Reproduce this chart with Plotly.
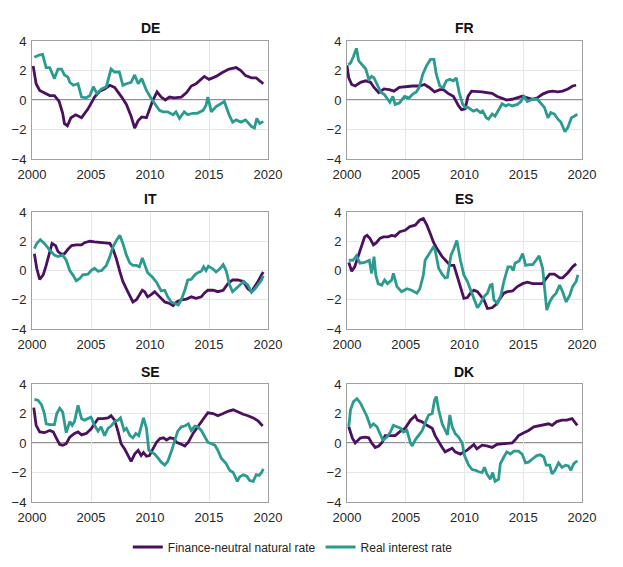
import plotly.graph_objects as go

# ---------------- data ----------------
countries = ["DE", "FR", "IT", "ES", "SE", "DK"]
x_ticks = [2000, 2005, 2010, 2015, 2020]
y_ticks = [-4, -2, 0, 2, 4]

de_nat_x = [2000.1, 2000.35, 2000.65, 2001.1, 2001.5, 2001.9, 2002.3, 2002.6, 2002.75, 2003.0, 2003.3, 2003.7, 2004.2, 2004.75, 2005.3, 2005.75, 2006.15, 2006.6, 2007.0, 2007.6, 2008.0, 2008.4, 2008.7, 2009.0, 2009.3, 2009.7, 2010.0, 2010.25, 2010.6, 2010.95, 2011.3, 2011.65, 2012.05, 2012.65, 2013.1, 2013.5, 2013.9, 2014.2, 2014.6, 2015.0, 2015.6, 2016.1, 2016.7, 2017.3, 2017.7, 2018.1, 2018.6, 2019.0, 2019.4, 2019.6]
de_nat_y = [2.3, 1.1, 0.65, 0.45, 0.3, 0.3, -0.1, -0.9, -1.6, -1.75, -1.2, -1.0, -1.2, -0.6, 0.2, 0.6, 0.75, 1.0, 0.85, 0.2, -0.3, -1.1, -1.9, -1.4, -1.15, -1.2, -0.6, 0.0, 0.55, 0.2, 0.0, 0.2, 0.15, 0.2, 0.5, 0.95, 1.1, 1.3, 1.6, 1.4, 1.6, 1.85, 2.1, 2.2, 2.0, 1.65, 1.5, 1.5, 1.2, 1.1]
de_real_x = [2000.2, 2000.6, 2000.9, 2001.2, 2001.5, 2001.9, 2002.2, 2002.5, 2002.75, 2003.05, 2003.2, 2003.5, 2003.9, 2004.2, 2004.6, 2004.9, 2005.2, 2005.5, 2005.9, 2006.3, 2006.7, 2007.0, 2007.4, 2007.7, 2008.0, 2008.4, 2008.7, 2009.0, 2009.3, 2009.7, 2010.1, 2010.4, 2010.8, 2011.1, 2011.5, 2011.95, 2012.2, 2012.5, 2012.9, 2013.2, 2013.6, 2014.0, 2014.5, 2014.75, 2014.9, 2015.2, 2015.6, 2016.0, 2016.3, 2016.7, 2017.0, 2017.3, 2017.7, 2018.1, 2018.6, 2018.85, 2019.05, 2019.3, 2019.6]
de_real_y = [2.9, 3.05, 3.1, 2.2, 2.2, 1.45, 2.1, 2.1, 1.7, 1.55, 1.2, 1.0, 1.1, 0.2, 0.15, 0.3, 0.9, 0.45, 0.75, 0.9, 2.1, 1.9, 1.9, 1.0, 1.1, 1.2, 1.7, 1.1, 1.45, 0.65, 0.1, -0.25, -0.7, -0.8, -0.8, -1.0, -0.8, -1.25, -0.8, -1.0, -0.9, -0.9, -0.7, -0.35, 0.2, -0.8, -0.45, -0.25, -0.1, -1.0, -1.5, -1.35, -1.5, -1.35, -1.8, -1.9, -1.25, -1.6, -1.45]

fr_nat_x = [2000.0, 2000.15, 2000.4, 2000.7, 2001.15, 2001.6, 2002.0, 2002.3, 2002.7, 2003.15, 2003.6, 2004.0, 2004.45, 2005.0, 2005.6, 2006.15, 2006.6, 2007.0, 2007.45, 2007.9, 2008.2, 2008.6, 2009.05, 2009.5, 2009.75, 2010.05, 2010.3, 2010.6, 2011.05, 2011.5, 2011.9, 2012.35, 2012.75, 2013.2, 2013.6, 2014.05, 2014.5, 2014.9, 2015.35, 2015.8, 2016.2, 2016.65, 2017.1, 2017.5, 2017.95, 2018.35, 2018.8, 2019.2, 2019.5]
fr_nat_y = [2.35, 1.5, 1.05, 0.95, 1.2, 1.3, 1.2, 0.85, 0.5, 0.75, 0.7, 0.6, 0.85, 0.9, 0.95, 0.95, 1.05, 0.85, 0.55, 0.7, 0.7, 0.45, 0.25, -0.4, -0.65, -0.6, 0.25, 0.6, 0.6, 0.55, 0.5, 0.45, 0.25, 0.1, 0.0, 0.05, 0.15, 0.25, 0.15, 0.05, 0.15, 0.4, 0.55, 0.6, 0.55, 0.6, 0.75, 0.95, 1.0]
fr_real_x = [2000.1, 2000.3, 2000.55, 2000.8, 2001.0, 2001.3, 2001.6, 2001.85, 2002.1, 2002.3, 2002.6, 2002.9, 2003.15, 2003.45, 2003.65, 2003.9, 2004.1, 2004.45, 2004.9, 2005.3, 2005.6, 2005.9, 2006.15, 2006.45, 2006.75, 2007.1, 2007.4, 2007.6, 2007.9, 2008.2, 2008.45, 2008.75, 2009.05, 2009.3, 2009.55, 2009.85, 2010.05, 2010.3, 2010.75, 2011.05, 2011.35, 2011.55, 2011.85, 2012.05, 2012.35, 2012.6, 2012.9, 2013.2, 2013.5, 2013.75, 2014.05, 2014.5, 2014.8, 2015.05, 2015.35, 2015.8, 2016.2, 2016.5, 2016.8, 2017.1, 2017.35, 2017.65, 2017.95, 2018.2, 2018.55, 2018.8, 2019.1, 2019.35, 2019.6]
fr_real_y = [2.4, 2.5, 2.95, 3.5, 2.65, 2.4, 2.1, 1.4, 1.6, 1.5, 0.95, 0.5, 0.4, 0.05, -0.15, 0.25, -0.3, -0.2, 0.25, 0.15, 0.4, 0.55, 0.85, 1.75, 2.3, 2.75, 2.75, 1.75, 0.95, 0.85, 1.3, 1.4, 1.3, 1.5, 0.5, -0.3, -0.5, -0.5, -0.75, -0.65, -0.85, -0.75, -1.2, -1.3, -0.95, -1.1, -0.65, -0.25, -0.4, -0.3, -0.4, -0.3, -0.1, 0.25, -0.1, 0.05, 0.05, -0.25, -0.5, -1.2, -0.85, -0.95, -1.3, -1.5, -2.15, -1.85, -1.2, -1.1, -0.95]

it_nat_x = [2000.2, 2000.4, 2000.65, 2000.95, 2001.2, 2001.5, 2001.7, 2002.0, 2002.2, 2002.5, 2002.75, 2003.05, 2003.35, 2003.75, 2004.2, 2004.45, 2004.9, 2005.3, 2005.75, 2006.15, 2006.6, 2006.85, 2007.15, 2007.45, 2007.7, 2008.0, 2008.3, 2008.55, 2008.85, 2009.1, 2009.35, 2009.55, 2009.8, 2010.1, 2010.4, 2010.7, 2010.95, 2011.25, 2011.65, 2011.95, 2012.25, 2012.65, 2013.1, 2013.5, 2013.9, 2014.35, 2014.6, 2014.9, 2015.35, 2015.75, 2016.2, 2016.6, 2017.0, 2017.45, 2017.9, 2018.3, 2018.6, 2018.9, 2019.15, 2019.45, 2019.6]
it_nat_y = [1.15, 0.15, -0.6, -0.3, 0.35, 1.25, 1.85, 1.7, 1.3, 1.1, 1.15, 1.45, 1.7, 1.75, 1.75, 1.9, 2.0, 1.95, 1.9, 1.9, 1.85, 1.5, 0.8, -0.1, -0.75, -1.25, -1.7, -2.15, -2.0, -1.7, -1.35, -1.45, -1.8, -1.65, -1.45, -1.7, -1.9, -2.15, -2.25, -2.4, -2.15, -2.0, -1.95, -1.8, -1.9, -1.8, -1.55, -1.35, -1.35, -1.45, -1.35, -0.9, -0.65, -0.65, -0.75, -1.25, -1.45, -1.1, -0.75, -0.3, -0.1]
it_real_x = [2000.2, 2000.4, 2000.7, 2001.05, 2001.5, 2001.9, 2002.2, 2002.6, 2002.9, 2003.2, 2003.5, 2003.75, 2004.05, 2004.3, 2004.75, 2005.0, 2005.3, 2005.6, 2005.9, 2006.3, 2006.6, 2006.85, 2007.15, 2007.45, 2007.7, 2008.0, 2008.3, 2008.55, 2008.85, 2009.1, 2009.35, 2009.55, 2009.8, 2010.2, 2010.55, 2010.75, 2010.95, 2011.25, 2011.5, 2011.8, 2012.1, 2012.4, 2012.65, 2012.95, 2013.2, 2013.5, 2013.8, 2014.05, 2014.35, 2014.55, 2014.75, 2014.95, 2015.35, 2015.6, 2015.9, 2016.2, 2016.45, 2016.75, 2017.0, 2017.3, 2017.65, 2017.95, 2018.3, 2018.6, 2018.9, 2019.15, 2019.45, 2019.6]
it_real_y = [1.5, 1.85, 2.1, 1.85, 1.4, 1.05, 0.95, 1.05, 0.7, 0.0, -0.35, -0.7, -0.55, -0.3, -0.25, 0.0, 0.15, -0.05, 0.0, 0.35, 0.95, 1.6, 2.05, 2.4, 1.85, 1.05, 0.5, 0.35, 0.35, 0.25, 0.85, 0.35, -0.15, -0.45, -0.8, -1.1, -1.4, -1.35, -1.8, -2.15, -2.25, -2.35, -2.0, -1.35, -0.65, -0.6, -0.3, -0.15, -0.05, 0.25, 0.0, 0.3, 0.1, -0.1, 0.1, 0.4, 0.0, -1.0, -1.45, -1.25, -1.0, -0.75, -1.0, -1.5, -1.25, -1.0, -0.65, -0.35]

es_nat_x = [2000.15, 2000.4, 2000.65, 2000.95, 2001.25, 2001.5, 2001.7, 2001.95, 2002.25, 2002.5, 2002.8, 2003.1, 2003.5, 2003.8, 2004.1, 2004.5, 2004.95, 2005.35, 2005.8, 2006.2, 2006.5, 2006.8, 2007.1, 2007.35, 2007.65, 2008.1, 2008.5, 2008.8, 2009.1, 2009.35, 2009.65, 2009.95, 2010.25, 2010.5, 2010.8, 2011.1, 2011.35, 2011.65, 2011.95, 2012.35, 2012.65, 2012.95, 2013.35, 2013.65, 2014.1, 2014.5, 2014.95, 2015.35, 2015.8, 2016.25, 2016.65, 2016.95, 2017.25, 2017.65, 2018.1, 2018.35, 2018.8, 2019.2, 2019.5]
es_nat_y = [0.55, -0.05, 0.25, 0.95, 1.75, 2.3, 2.4, 2.2, 1.75, 1.9, 2.2, 2.3, 2.3, 2.4, 2.35, 2.65, 2.75, 3.0, 3.1, 3.45, 3.55, 3.1, 2.5, 1.95, 1.5, 0.95, 0.6, 0.35, 0.35, -0.3, -1.25, -1.9, -1.85, -1.55, -1.35, -1.45, -1.7, -2.0, -2.6, -2.55, -2.35, -2.0, -1.55, -1.45, -1.4, -1.1, -0.9, -0.8, -0.9, -0.9, -0.9, -0.55, -0.25, -0.25, -0.5, -0.5, -0.15, 0.25, 0.45]
es_real_x = [2000.15, 2000.5, 2000.8, 2001.1, 2001.5, 2001.9, 2002.1, 2002.3, 2002.45, 2002.65, 2002.95, 2003.2, 2003.45, 2003.8, 2003.95, 2004.25, 2004.65, 2005.1, 2005.5, 2005.95, 2006.2, 2006.5, 2006.65, 2007.1, 2007.35, 2007.5, 2007.8, 2008.1, 2008.35, 2008.55, 2008.85, 2009.1, 2009.35, 2009.65, 2009.95, 2010.25, 2010.5, 2010.85, 2011.1, 2011.35, 2011.65, 2011.95, 2012.2, 2012.35, 2012.5, 2012.8, 2013.1, 2013.35, 2013.7, 2013.95, 2014.15, 2014.3, 2014.65, 2014.95, 2015.2, 2015.5, 2015.8, 2016.05, 2016.35, 2016.65, 2016.8, 2017.0, 2017.25, 2017.5, 2017.8, 2018.1, 2018.35, 2018.65, 2018.95, 2019.2, 2019.5, 2019.65]
es_real_y = [0.7, 0.7, 1.0, 0.5, 0.55, 0.7, -0.2, 0.95, -0.3, -0.9, -1.0, -0.65, -0.9, -0.65, -0.2, -1.1, -1.45, -1.25, -1.35, -1.55, -1.25, -0.3, 0.7, 1.3, 1.6, 1.4, 0.15, -0.25, -0.5, -0.45, 1.05, 1.5, 2.05, 0.7, -0.3, -0.75, -1.25, -2.0, -2.55, -2.25, -1.8, -1.55, -1.0, -0.95, -2.0, -2.25, -1.7, -0.75, 0.25, 0.25, 0.0, 0.5, 0.65, 1.15, 0.35, 0.4, 0.4, 0.65, 1.0, 0.15, -1.0, -2.7, -2.15, -1.8, -1.55, -1.0, -1.45, -2.15, -1.7, -1.1, -0.75, -0.3]

se_nat_x = [2000.15, 2000.35, 2000.65, 2001.05, 2001.5, 2001.8, 2002.05, 2002.35, 2002.6, 2002.9, 2003.2, 2003.6, 2003.9, 2004.2, 2004.6, 2005.0, 2005.3, 2005.6, 2006.0, 2006.45, 2006.7, 2007.0, 2007.3, 2007.55, 2007.85, 2008.15, 2008.4, 2008.7, 2009.0, 2009.25, 2009.45, 2009.7, 2009.95, 2010.25, 2010.55, 2010.85, 2011.15, 2011.4, 2011.7, 2012.0, 2012.25, 2012.7, 2012.95, 2013.25, 2013.65, 2014.05, 2014.5, 2014.9, 2015.35, 2015.75, 2016.2, 2016.6, 2017.05, 2017.45, 2017.9, 2018.3, 2018.75, 2019.15, 2019.55]
se_nat_y = [2.4, 1.2, 0.75, 0.7, 0.85, 0.75, 0.35, -0.1, -0.15, -0.05, 0.4, 0.65, 0.75, 0.55, 0.65, 0.95, 1.3, 1.65, 1.65, 1.7, 1.85, 1.55, 0.75, -0.05, -0.4, -0.85, -1.25, -0.75, -0.5, -0.85, -0.65, -0.9, -0.85, -0.4, 0.05, 0.3, 0.35, 0.2, 0.35, 0.3, 0.05, -0.1, -0.2, 0.05, 0.65, 1.1, 1.65, 2.05, 2.0, 1.85, 2.0, 2.15, 2.25, 2.1, 1.95, 1.85, 1.7, 1.5, 1.15]
se_real_x = [2000.2, 2000.5, 2000.8, 2001.05, 2001.2, 2001.5, 2001.9, 2002.1, 2002.35, 2002.6, 2002.9, 2003.2, 2003.4, 2003.6, 2003.9, 2004.2, 2004.45, 2004.75, 2005.0, 2005.3, 2005.6, 2005.85, 2006.15, 2006.45, 2006.7, 2007.0, 2007.3, 2007.5, 2007.8, 2008.0, 2008.3, 2008.55, 2008.8, 2009.05, 2009.25, 2009.45, 2009.7, 2009.9, 2010.1, 2010.4, 2010.7, 2010.95, 2011.25, 2011.5, 2011.8, 2012.1, 2012.35, 2012.65, 2012.95, 2013.25, 2013.5, 2013.8, 2014.05, 2014.35, 2014.6, 2014.9, 2015.2, 2015.5, 2015.75, 2016.05, 2016.45, 2016.75, 2017.05, 2017.4, 2017.6, 2017.9, 2018.2, 2018.45, 2018.75, 2019.0, 2019.25, 2019.45, 2019.6]
se_real_y = [2.95, 2.9, 2.6, 2.0, 1.3, 1.25, 1.25, 2.0, 2.35, 2.1, 0.7, 1.45, 1.2, 1.45, 2.55, 1.65, 1.55, 1.65, 1.75, 1.2, 0.8, 1.1, 0.5, 1.0, 1.15, 1.45, 1.55, 1.7, 0.85, 1.0, 0.5, 0.35, 0.65, 0.5, 1.1, 1.7, 1.0, -0.5, -0.6, -0.75, -1.05, -1.3, -1.5, -1.25, -0.6, 0.1, 0.8, 1.1, 1.15, 1.3, 0.85, 1.15, 1.1, 0.85, 0.5, 0.05, -0.05, -0.15, -0.5, -1.05, -1.4, -1.85, -2.0, -2.6, -2.3, -2.15, -2.25, -2.55, -2.6, -2.15, -2.2, -2.0, -1.75]

dk_nat_x = [2000.15, 2000.45, 2000.7, 2001.15, 2001.55, 2001.85, 2002.1, 2002.4, 2002.7, 2003.0, 2003.25, 2003.7, 2004.1, 2004.55, 2004.95, 2005.4, 2005.8, 2006.0, 2006.35, 2006.8, 2007.25, 2007.5, 2007.8, 2008.1, 2008.35, 2008.65, 2008.95, 2009.2, 2009.65, 2009.95, 2010.2, 2010.5, 2010.8, 2011.05, 2011.5, 2011.9, 2012.35, 2012.75, 2013.2, 2013.6, 2014.05, 2014.3, 2014.6, 2015.05, 2015.45, 2015.9, 2016.3, 2016.75, 2017.15, 2017.45, 2017.85, 2018.3, 2018.7, 2019.15, 2019.45, 2019.6]
dk_nat_y = [1.1, 0.35, 0.0, 0.35, 0.4, 0.35, 0.0, -0.3, -0.2, 0.05, 0.5, 0.5, 0.5, 0.8, 1.0, 1.55, 1.85, 1.55, 1.45, 1.2, 1.0, 0.5, 0.05, -0.3, -0.6, -0.5, -0.35, -0.6, -0.75, -0.6, -0.5, -0.3, -0.1, -0.4, -0.15, -0.2, -0.3, -0.1, -0.05, 0.0, 0.0, 0.2, 0.5, 0.7, 0.85, 1.1, 1.15, 1.2, 1.3, 1.2, 1.45, 1.55, 1.55, 1.65, 1.3, 1.2]
dk_real_x = [2000.15, 2000.3, 2000.55, 2000.85, 2001.15, 2001.4, 2001.7, 2002.0, 2002.25, 2002.55, 2002.85, 2003.05, 2003.4, 2003.7, 2003.95, 2004.25, 2004.55, 2004.8, 2005.1, 2005.4, 2005.55, 2005.8, 2006.1, 2006.4, 2006.7, 2006.95, 2007.25, 2007.45, 2007.6, 2007.8, 2008.1, 2008.35, 2008.55, 2008.75, 2008.95, 2009.2, 2009.5, 2009.8, 2010.0, 2010.35, 2010.65, 2010.95, 2011.2, 2011.5, 2011.7, 2011.9, 2012.2, 2012.4, 2012.6, 2012.9, 2013.05, 2013.35, 2013.6, 2013.9, 2014.2, 2014.6, 2014.9, 2015.2, 2015.45, 2015.75, 2016.15, 2016.45, 2016.75, 2016.95, 2017.25, 2017.45, 2017.7, 2018.0, 2018.3, 2018.6, 2018.85, 2019.05, 2019.3, 2019.6]
dk_real_y = [1.1, 2.25, 2.8, 3.0, 2.7, 2.25, 1.8, 1.1, 1.3, 1.1, 0.5, 0.2, 0.4, 0.75, 1.2, 1.1, 1.0, 0.75, 0.85, 0.0, -0.2, 0.2, 0.5, 0.85, 1.45, 1.9, 2.0, 2.9, 3.15, 2.25, 1.3, 0.85, 0.55, 1.9, 1.1, 0.65, 0.4, 0.0, -0.85, -1.5, -1.8, -1.85, -1.95, -2.0, -1.65, -2.1, -2.45, -2.0, -2.6, -2.45, -1.4, -0.95, -0.6, -0.75, -0.55, -0.55, -0.75, -1.35, -1.3, -1.1, -0.85, -0.8, -0.95, -1.5, -1.5, -2.1, -1.85, -1.35, -1.65, -1.5, -1.55, -1.85, -1.4, -1.2]

series = {
    "DE": (de_nat_x, de_nat_y, de_real_x, de_real_y),
    "FR": (fr_nat_x, fr_nat_y, fr_real_x, fr_real_y),
    "IT": (it_nat_x, it_nat_y, it_real_x, it_real_y),
    "ES": (es_nat_x, es_nat_y, es_real_x, es_real_y),
    "SE": (se_nat_x, se_nat_y, se_real_x, se_real_y),
    "DK": (dk_nat_x, dk_nat_y, dk_real_x, dk_real_y),
}
names = ["Finance-neutral natural rate", "Real interest rate"]

# ---------------- styling ----------------
W, H = 623, 567
PURPLE = "#4b1060"
TEAL = "#2b9a8f"
FONT = "Liberation Sans, Arial, sans-serif"

col_px = [(32, 268), (347, 582)]
row_px = [(41, 159), (212, 329), (384, 502)]
title_y_px = [28, 199, 372]

fig = go.Figure()
layout = dict(
    width=W, height=H,
    template="none",
    margin=dict(l=0, r=0, t=0, b=0, autoexpand=False),
    paper_bgcolor="white", plot_bgcolor="white",
    font=dict(family=FONT, size=13, color="#262626"),
    showlegend=True,
    legend=dict(orientation="h", x=0.47, xanchor="center", y=1 - 547 / H, yanchor="middle",
                font=dict(size=12, color="#262626"), itemwidth=30, tracegroupgap=0,
                bgcolor="rgba(0,0,0,0)"),
)
annotations = []
shapes = []

for i, c in enumerate(countries):
    r, k = divmod(i, 2)
    n = i + 1
    xa = "xaxis" if n == 1 else f"xaxis{n}"
    ya = "yaxis" if n == 1 else f"yaxis{n}"
    xref = "x" if n == 1 else f"x{n}"
    yref = "y" if n == 1 else f"y{n}"
    x0, x1 = col_px[k]
    y0, y1 = row_px[r]
    layout[xa] = dict(domain=[x0 / W, x1 / W], range=[2000, 2020], tickvals=x_ticks,
                      anchor=yref, showgrid=True, gridcolor="#e6e6e6", gridwidth=1,
                      showline=True, linecolor="#a0a0a0", linewidth=1, mirror=True,
                      zeroline=False, ticks="", automargin=False, ticklabelstandoff=3,
                      tickfont=dict(size=13, color="#262626"))
    layout[ya] = dict(domain=[1 - y1 / H, 1 - y0 / H], range=[-4, 4], tickvals=y_ticks,
                      anchor=xref, showgrid=True, gridcolor="#e6e6e6", gridwidth=1,
                      showline=True, linecolor="#a0a0a0", linewidth=1, mirror=True,
                      zeroline=False, ticks="", automargin=False, ticklabelstandoff=2,
                      tickfont=dict(size=13, color="#262626"))
    shapes.append(dict(type="line", xref=xref, yref=yref, x0=2000, x1=2020, y0=0, y1=0,
                       line=dict(color="#222222", width=1), layer="below"))
    annotations.append(dict(text=f"<b>{c}</b>", x=((x0 + x1) / 2) / W, y=1 - title_y_px[r] / H,
                            xref="paper", yref="paper", showarrow=False,
                            xanchor="center", yanchor="middle",
                            font=dict(size=14, color="#111111", family=FONT)))
    nx, ny, rx, ry = series[c]
    fig.add_trace(go.Scatter(x=nx, y=ny, xaxis=xref, yaxis=yref, mode="lines",
                             line=dict(color=PURPLE, width=2.8), name=names[0],
                             legendgroup="nat", showlegend=(i == 0), hoverinfo="skip"))
    fig.add_trace(go.Scatter(x=rx, y=ry, xaxis=xref, yaxis=yref, mode="lines",
                             line=dict(color=TEAL, width=2.8), name=names[1],
                             legendgroup="real", showlegend=(i == 0), hoverinfo="skip"))

layout["annotations"] = annotations
layout["shapes"] = shapes
fig.update_layout(**layout)
fig.write_html("out.html", config={"displayModeBar": False},
               post_script="document.body.style.margin='0';document.body.style.padding='0';")
